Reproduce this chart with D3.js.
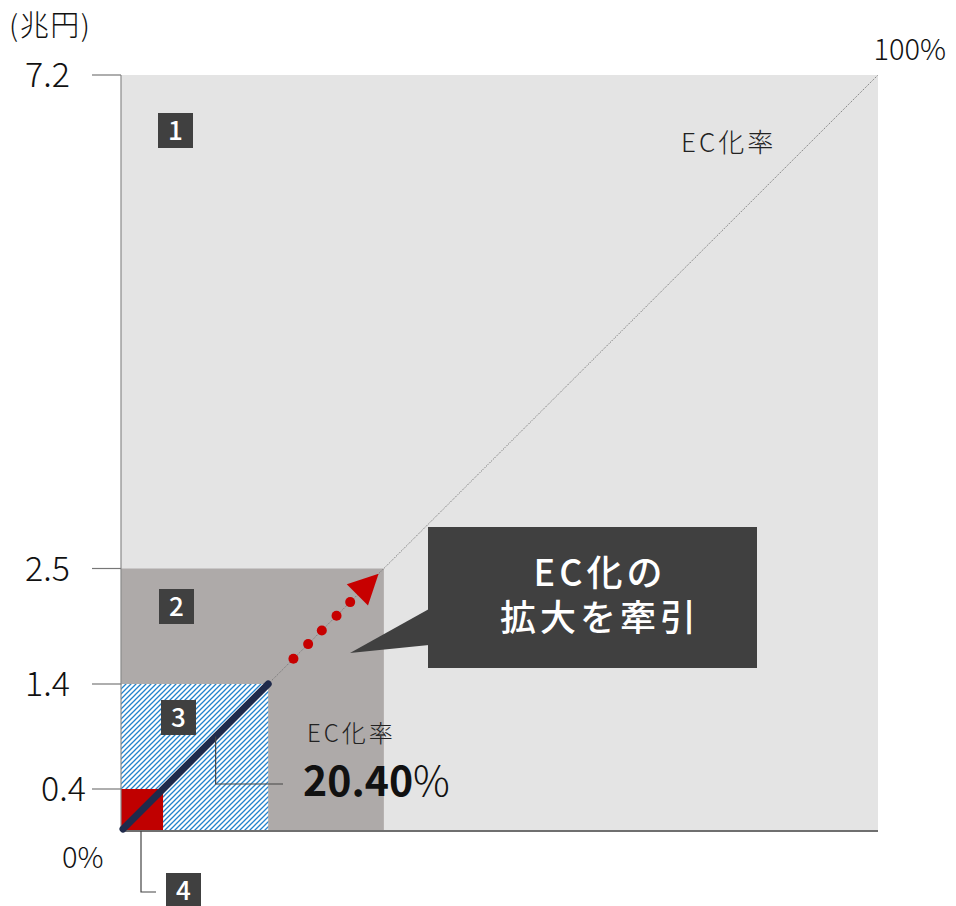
<!DOCTYPE html>
<html><head><meta charset="utf-8">
<script src="https://cdn.jsdelivr.net/npm/d3@7"></script>
<style>
html,body{margin:0;padding:0;background:#fff;}
svg{display:block;}
text{font-family:"Noto Sans CJK JP","Noto Sans",sans-serif;}
</style></head>
<body>
<script>
// ---- data ----
const unitLabel = "(兆円)";
const tickValues = [7.2, 2.5, 1.4, 0.4];
const tickLabels = ["7.2", "2.5", "1.4", "0.4"];
const squareNames = ["1", "2", "3", "4"];
const squareValues = [7.2, 2.5, 1.4, 0.4];
const rateMinLabel = "0%";
const rateMaxLabel = "100%";
const rateAxisName = "EC化率";
const ecRateLabel = "20.40%";
const ecLineEnd = 1.4;
const arrowDots = [1.64, 1.78, 1.91, 2.05, 2.18];
const arrowTip = 2.45;
const calloutLines = ["EC化の", "拡大を牽引"];

// ---- layout ----
const W = 956, H = 906;
const svg = d3.select("body").append("svg").attr("width", W).attr("height", H);
const maxV = d3.max(squareValues);
const x = d3.scaleLinear().domain([0, maxV]).range([121, 878]);
const y = d3.scaleLinear().domain([0, maxV]).range([831, 75]);

const defs = svg.append("defs");
const pat = defs.append("pattern").attr("id", "hatch").attr("patternUnits", "userSpaceOnUse")
  .attr("width", 5).attr("height", 5);
pat.append("rect").attr("width", 5).attr("height", 5).attr("fill", "#fff");
pat.append("path").attr("d", "M-1,1 l2,-2 M0,5 l5,-5 M4,6 l2,-2")
  .attr("stroke", "#2383cc").attr("stroke-width", 1.3);

const fills = ["#e4e4e4", "#aeaaa9", "url(#hatch)", "#c00000"];

// squares
svg.append("g").selectAll("rect").data(squareValues).join("rect")
  .attr("x", x(0)).attr("y", d => y(d))
  .attr("width", d => x(d) - x(0)).attr("height", d => y(0) - y(d))
  .attr("fill", (d, i) => fills[i]);

// diagonal dotted line
svg.append("line").attr("x1", x(0)).attr("y1", y(0)).attr("x2", x(maxV)).attr("y2", y(maxV))
  .attr("stroke", "#777").attr("stroke-width", 1).attr("stroke-dasharray", "1.2,1.2");

// left axis
svg.append("line").attr("x1", x(0)).attr("x2", x(0)).attr("y1", y(maxV)).attr("y2", y(0))
  .attr("stroke", "#8a8a8a").attr("stroke-width", 1.2);
// ticks
const tg = svg.append("g");
tg.selectAll("line").data(tickValues).join("line")
  .attr("x1", 92).attr("x2", x(0)).attr("y1", d => y(d)).attr("y2", d => y(d))
  .attr("stroke", "#777").attr("stroke-width", 1.2);
tg.selectAll("text").data(tickValues).join("text")
  .attr("x", (d, i) => tickLabels[i] === "0.4" ? 86 : 70)
  .attr("y", d => y(d) + 12)
  .attr("text-anchor", "end").attr("font-size", 34).attr("font-weight", 300).attr("fill", "#111")
  .text((d, i) => tickLabels[i]);

// bottom axis
svg.append("line").attr("x1", x(0)).attr("x2", x(maxV)).attr("y1", y(0)).attr("y2", y(0))
  .attr("stroke", "#6f6f6f").attr("stroke-width", 2);

// unit label
svg.append("text").attr("x", 9).attr("y", 36).attr("font-size", 29).attr("font-weight", 300)
  .attr("letter-spacing", 1.5).attr("fill", "#111").text(unitLabel);

// rate labels
svg.append("text").attr("x", 946).attr("y", 60).attr("text-anchor", "end").attr("font-size", 29)
  .attr("font-weight", 300).attr("fill", "#111").text(rateMaxLabel);
svg.append("text").attr("x", 62).attr("y", 868).attr("font-size", 29)
  .attr("font-weight", 300).attr("fill", "#111").text(rateMinLabel);
svg.append("text").attr("x", 681).attr("y", 152).attr("font-size", 26).attr("letter-spacing", 3)
  .attr("font-weight", 300).attr("fill", "#222").text(rateAxisName);

// navy EC line
svg.append("line").attr("x1", x(0) + 2).attr("y1", y(0) - 2).attr("x2", x(ecLineEnd)).attr("y2", y(ecLineEnd))
  .attr("stroke", "#1f2a4b").attr("stroke-width", 7).attr("stroke-linecap", "round");

// red dots
svg.append("g").selectAll("circle").data(arrowDots).join("circle")
  .attr("cx", d => x(d)).attr("cy", d => y(d)).attr("r", 5).attr("fill", "#c70000");
// arrow head
svg.append("path").attr("d", "M0,0 L-30,-15 L-30,15 Z")
  .attr("transform", `translate(${x(arrowTip)},${y(arrowTip)}) rotate(-45)`)
  .attr("fill", "#c70000");

// callout
const cg = svg.append("g");
cg.append("path").attr("d", "M429,609 L350,653 L429,645 Z").attr("fill", "#404040");
cg.append("rect").attr("x", 428).attr("y", 527).attr("width", 329).attr("height", 141).attr("fill", "#404040");
const ct = cg.append("text").attr("text-anchor", "middle").attr("font-size", 36).attr("font-weight", 500)
  .attr("letter-spacing", 4).attr("fill", "#fff");
ct.selectAll("tspan").data(calloutLines).join("tspan")
  .attr("x", 600).attr("y", (d, i) => 586 + i * 45).text(d => d);

// leader for 3 -> rate label
const lp = 0.9;
svg.append("path")
  .attr("d", `M${x(lp)},${y(lp)} V784 H283`)
  .attr("fill", "none").attr("stroke", "#444").attr("stroke-width", 1.2);
svg.append("text").attr("x", 307).attr("y", 742).attr("font-size", 24).attr("letter-spacing", 3)
  .attr("font-weight", 300).attr("fill", "#222").text(rateAxisName);
const rt = svg.append("text").attr("x", 303).attr("y", 796).attr("font-size", 41).attr("fill", "#111");
rt.append("tspan").attr("font-weight", 700).text(ecRateLabel.replace("%", ""));
rt.append("tspan").attr("font-weight", 300).text("%");

// leader for 4
svg.append("path").attr("d", `M141,${y(0)} V892 H156`)
  .attr("fill", "none").attr("stroke", "#444").attr("stroke-width", 1.2);

// badges
const badgePos = [[158, 113], [159, 589], [161, 700], [166, 873]];
const bg = svg.append("g").selectAll("g").data(squareNames).join("g")
  .attr("transform", (d, i) => `translate(${badgePos[i][0]},${badgePos[i][1]})`);
bg.append("rect").attr("width", 35).attr("height", 35).attr("fill", "#404040");
bg.append("text").attr("x", 17.5).attr("y", 27).attr("text-anchor", "middle")
  .attr("font-size", 26).attr("font-weight", 500).attr("fill", "#fff").text(d => d);
</script>
</body></html>
